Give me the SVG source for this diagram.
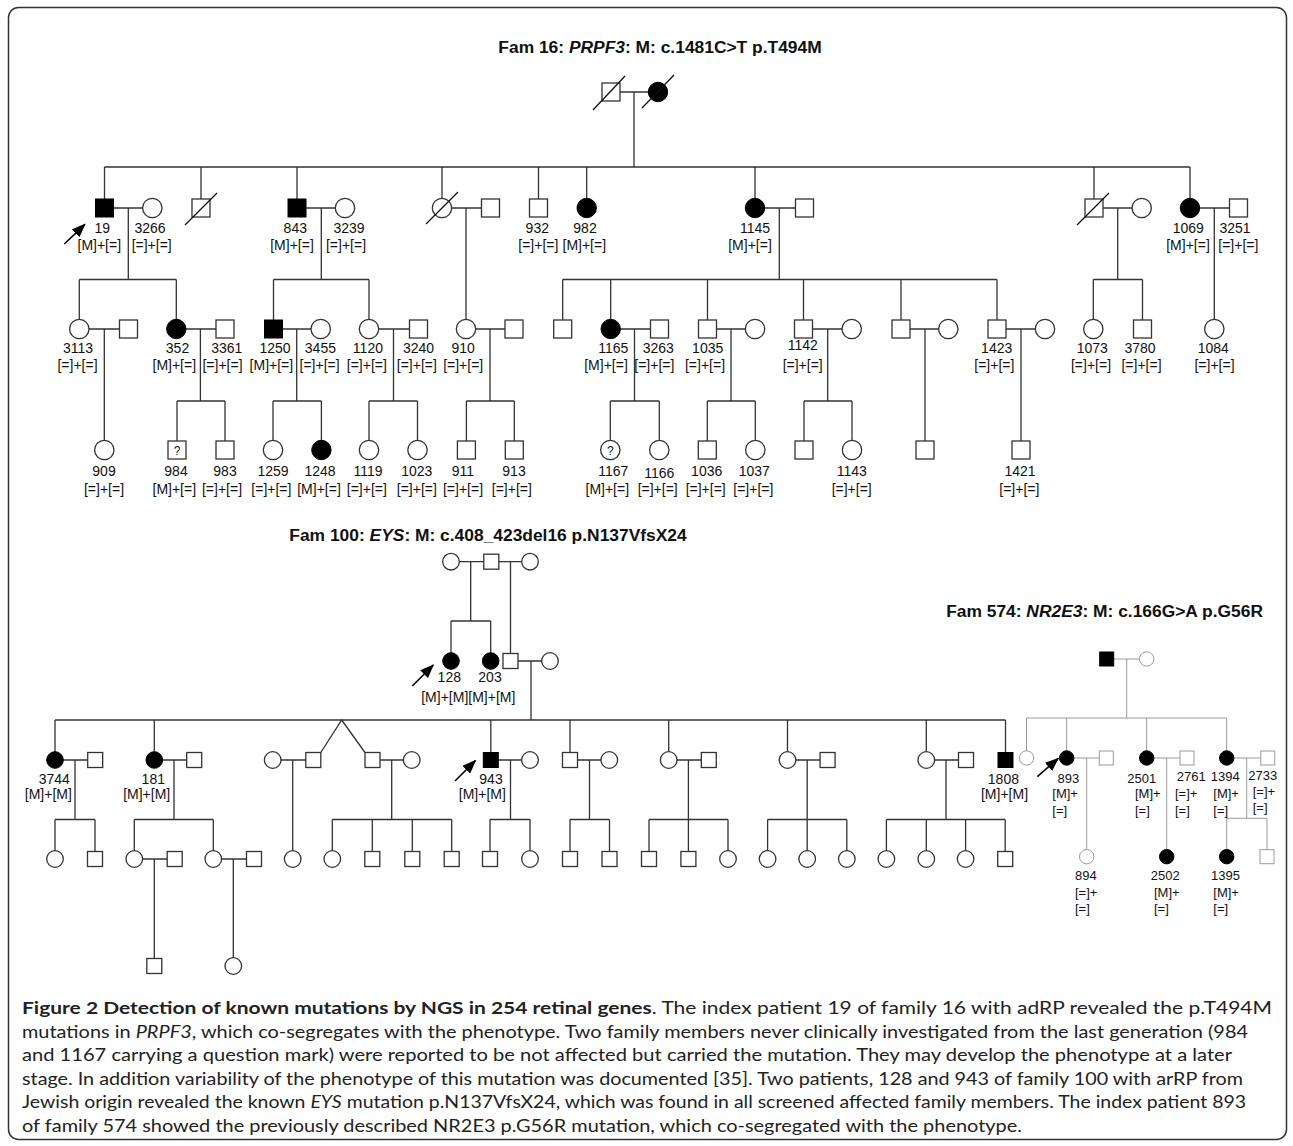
<svg xmlns="http://www.w3.org/2000/svg" xmlns:xlink="http://www.w3.org/1999/xlink" width="1293" height="1146" viewBox="0 0 1293 1146">
<style>
.ln{fill:none;stroke:#333;stroke-width:1.3}
.lg{fill:none;stroke:#9a9a9a;stroke-width:1}
.u{fill:#fff;stroke:#333;stroke-width:1.3}
.ug{fill:#fff;stroke:#9a9a9a;stroke-width:1}
.a{fill:#000;stroke:#000;stroke-width:1}
.sl{stroke:#111;stroke-width:1.3}
.n{font-family:"Liberation Sans",Arial,Helvetica,sans-serif;font-size:14px;fill:#111;text-anchor:middle}
.ne{font-family:"Liberation Sans",Arial,Helvetica,sans-serif;font-size:14px;fill:#111;text-anchor:end}
.ns{font-family:"Liberation Sans",Arial,Helvetica,sans-serif;font-size:14px;fill:#111;text-anchor:start}
.m{font-family:"Liberation Sans",Arial,Helvetica,sans-serif;font-size:13px;fill:#111}
.mc{font-family:"Liberation Sans",Arial,Helvetica,sans-serif;font-size:13px;fill:#111;text-anchor:middle}
.q{font-family:"Liberation Sans",Arial,Helvetica,sans-serif;font-size:12px;fill:#111;text-anchor:middle}
.ttl{font-family:"Liberation Sans",Arial,Helvetica,sans-serif;font-size:17.4px;font-weight:bold;fill:#111}
.cap{font-family:Lato,"Open Sans","Liberation Sans",sans-serif;font-size:17.5px;fill:#222}
.arr{stroke:#000;stroke-width:1.6;fill:none}
</style>
<defs>
<rect id="s16" x="-9" y="-9" width="18" height="18"/>
<circle id="c16" r="9.7"/>
<rect id="s100" x="-7.5" y="-7.5" width="15" height="15"/>
<circle id="c100" r="8.3"/>
<rect id="s574" x="-7" y="-7" width="14" height="14"/>
<circle id="c574" r="7.2"/>
<marker id="ah" viewBox="0 0 14 11" refX="13" refY="5.5" markerWidth="14" markerHeight="11" markerUnits="userSpaceOnUse" orient="auto">
<path d="M0 0L14 5.5L0 11z" fill="#000"/>
</marker>
</defs>

<!-- figure frame -->
<rect x="8.5" y="7.5" width="1278" height="1132" rx="10" fill="#fff" stroke="#333" stroke-width="1.5"/>

<!-- family titles -->
<g id="titles">
<text class="ttl" x="660" y="53" text-anchor="middle">Fam 16: <tspan font-style="italic">PRPF3</tspan>: M: c.1481C&gt;T p.T494M</text>
<text class="ttl" x="488" y="540.5" text-anchor="middle">Fam 100: <tspan font-style="italic">EYS</tspan>: M: c.408_423del16 p.N137VfsX24</text>
<text class="ttl" x="1263" y="617" text-anchor="end" font-size="16.6">Fam 574: <tspan font-style="italic">NR2E3</tspan>: M: c.166G&gt;A p.G56R</text>
</g>

<!-- connectors: marriage, descent and sibship lines -->
<g id="connectors">
<path class="ln" d="M611 92H658M634 92V167M104.5 167H1190M104.5 167V208M201 167V208M297 167V208M442 167V208M538.5 167V208M586.7 167V208M755 167V208M1094 167V208M1190 167V208"/>
<path class="ln" d="M104.5 208H152.3M128.3 208V279.5M79.3 279.5H176.3M79.3 279.5V329M176.3 279.5V329M297 208H345M321.3 208V279.5M273.5 279.5H369M273.5 279.5V329M369 279.5V329M442 208H490.5M466 208V329M755 208H804.5M779.3 208V279.5M562.7 279.5H997M562.7 279.5V329M610.7 279.5V329M707.5 279.5V329M803.5 279.5V329M901 279.5V329M997 279.5V329M1094 208H1141.7M1117.7 208V279.5M1093.3 279.5H1142.5M1093.3 279.5V329M1142.5 279.5V329M1190 208H1238.5M1214.3 208V329"/>
<path class="ln" d="M79.3 329H128.5M104.3 329V450M176.3 329H225M200.4 329V401M177 401H225M177 401V450M225 401V450M273.5 329H320.7M296.7 329V401M273 401H321.4M273 401V450M321.4 401V450M369 329H418.5M393.5 329V401M369 401H417.5M369 401V450M417.5 401V450M466 329H514M490 329V401M466.4 401H514.3M466.4 401V450M514.3 401V450M610.7 329H659.5M634.5 329V401M610.3 401H659.3M610.3 401V450M659.3 401V450M707.5 329H755M731 329V401M707.3 401H755.3M707.3 401V450M755.3 401V450M803.5 329H851.7M827.7 329V401M804 401H852M804 401V450M852 401V450M901 329H948.3M925 329V450M997 329H1045M1021 329V450"/>
<path class="ln" d="M451 561.7H530M470.7 561.7V621M451 621H490.7M451 621V661M490.7 621V661M510.5 561.7V661M510.5 661H550M531 661V720M55 720H1005.5M55 720V760M154.3 720V760M490.8 720V760M570 720V760M668.7 720V760M787.5 720V760M926.3 720V760M1005.5 720V760M320.8 752.5L341.7 720L365 752.5"/>
<path class="ln" d="M55 760H95.2M75 760V819.5M55 819.5H95M55 819.5V859M95 819.5V859M154.3 760H194.2M174 760V819.5M134.3 819.5H213.3M134.3 819.5V859M213.3 819.5V859M272.7 760H313.3M292.7 760V859M372.5 760H411.7M391.7 760V819.5M332.3 819.5H451.7M332.3 819.5V859M372.3 819.5V859M412.3 819.5V859M451.7 819.5V859M490.8 760H530M510.5 760V819.5M490 819.5H530M490 819.5V859M530 819.5V859M570 760H609.3M589.5 760V819.5M570 819.5H609.5M570 819.5V859M609.5 819.5V859M668.7 760H708.8M688.4 760V819.5M649 819.5H728M649 819.5V859M688.4 819.5V859M728 819.5V859M787.5 760H827.6M807.2 760V819.5M767.6 819.5H846.8M767.6 819.5V859M807.2 819.5V859M846.8 819.5V859M926.3 760H966M946 760V819.5M886.4 819.5H1005.2M886.4 819.5V859M926.3 819.5V859M965.6 819.5V859M1005.2 819.5V859M134.3 859H174.7M154.3 859V966M213.3 859H254M233.3 859V966"/>
<path class="lg" d="M1106.7 659H1146.7M1126.7 659V718M1026.5 718H1226.7M1026.5 718V758M1066.7 718V758M1146.7 718V758M1226.7 718V758M1066.7 758H1106.3M1086.7 758V856.7M1146.7 758H1187M1166.7 758V856.7M1226.7 758H1267.8M1246.7 758V818.3M1226.7 818.3H1267M1226.7 818.3V856.7M1267 818.3V856.7"/>
<path class="arr" marker-end="url(#ah)" d="M64.3 244L85 224.3"/>
<path class="arr" marker-end="url(#ah)" d="M412.3 686L433.3 665"/>
<path class="arr" marker-end="url(#ah)" d="M455 781L475.5 760.5"/>
<path class="arr" marker-end="url(#ah)" d="M1037.3 776.7L1058.3 758.3"/>
</g>

<!-- Family 16 -->
<g id="fam16">
<g id="f16-I-1"><use xlink:href="#s16" class="u" x="611" y="92"/><line class="sl" x1="593" y1="110" x2="625" y2="76"/></g>
<g id="f16-I-2"><use xlink:href="#c16" class="a" x="658" y="92"/><line class="sl" x1="642" y1="108" x2="674" y2="75"/></g>

<g id="p19"><use xlink:href="#s16" class="a" x="104.5" y="208"/><text class="n" x="102.3" y="233">19</text><text class="n" x="99.3" y="250">[M]+[=]</text></g>
<g id="p3266"><use xlink:href="#c16" class="u" x="152.3" y="208"/><text class="n" x="150" y="233">3266</text><text class="n" x="151.7" y="250">[=]+[=]</text></g>
<g id="f16-II-3"><use xlink:href="#s16" class="u" x="201" y="208"/><line class="sl" x1="185" y1="225" x2="217" y2="193"/></g>
<g id="p843"><use xlink:href="#s16" class="a" x="297" y="208"/><text class="n" x="295.3" y="233">843</text><text class="n" x="292" y="250">[M]+[=]</text></g>
<g id="p3239"><use xlink:href="#c16" class="u" x="345" y="208"/><text class="n" x="349" y="233">3239</text><text class="n" x="346" y="250">[=]+[=]</text></g>
<g id="f16-II-6"><use xlink:href="#c16" class="u" x="442" y="208"/><line class="sl" x1="426" y1="224" x2="458" y2="192"/></g>
<g id="f16-II-7"><use xlink:href="#s16" class="u" x="490.5" y="208"/></g>
<g id="p932"><use xlink:href="#s16" class="u" x="538.5" y="208"/><text class="n" x="537.3" y="233">932</text><text class="n" x="538.3" y="250">[=]+[=]</text></g>
<g id="p982"><use xlink:href="#c16" class="a" x="586.7" y="208"/><text class="n" x="585" y="233">982</text><text class="n" x="584.3" y="250">[M]+[=]</text></g>
<g id="p1145"><use xlink:href="#c16" class="a" x="755" y="208"/><text class="n" x="755" y="233">1145</text><text class="n" x="750" y="250">[M]+[=]</text></g>
<g id="f16-II-11"><use xlink:href="#s16" class="u" x="804.5" y="208"/></g>
<g id="f16-II-12"><use xlink:href="#s16" class="u" x="1094" y="208"/><line class="sl" x1="1077" y1="225" x2="1109" y2="193"/></g>
<g id="f16-II-13"><use xlink:href="#c16" class="u" x="1141.7" y="208"/></g>
<g id="p1069"><use xlink:href="#c16" class="a" x="1190" y="208"/><text class="n" x="1188.3" y="233">1069</text><text class="n" x="1188" y="250">[M]+[=]</text></g>
<g id="p3251"><use xlink:href="#s16" class="u" x="1238.5" y="208"/><text class="n" x="1235" y="233">3251</text><text class="n" x="1238.3" y="250">[=]+[=]</text></g>

<g id="p3113"><use xlink:href="#c16" class="u" x="79.3" y="329"/><text class="n" x="78" y="353">3113</text><text class="n" x="77.5" y="370">[=]+[=]</text></g>
<g id="f16-III-2"><use xlink:href="#s16" class="u" x="128.5" y="329"/></g>
<g id="p352"><use xlink:href="#c16" class="a" x="176.3" y="329"/><text class="n" x="177.5" y="353">352</text><text class="n" x="174.3" y="370">[M]+[=]</text></g>
<g id="p3361"><use xlink:href="#s16" class="u" x="225" y="329"/><text class="n" x="226.8" y="353">3361</text><text class="n" x="222.5" y="370">[=]+[=]</text></g>
<g id="p1250"><use xlink:href="#s16" class="a" x="273.5" y="329"/><text class="n" x="275" y="353">1250</text><text class="n" x="271.4" y="370">[M]+[=]</text></g>
<g id="p3455"><use xlink:href="#c16" class="u" x="320.7" y="329"/><text class="n" x="320.4" y="353">3455</text><text class="n" x="319.6" y="370">[=]+[=]</text></g>
<g id="p1120"><use xlink:href="#c16" class="u" x="369" y="329"/><text class="n" x="367.9" y="353">1120</text><text class="n" x="366.8" y="370">[=]+[=]</text></g>
<g id="p3240"><use xlink:href="#s16" class="u" x="418.5" y="329"/><text class="n" x="418.6" y="353">3240</text><text class="n" x="416.8" y="370">[=]+[=]</text></g>
<g id="p910"><use xlink:href="#c16" class="u" x="466" y="329"/><text class="n" x="463.2" y="353">910</text><text class="n" x="463.2" y="370">[=]+[=]</text></g>
<g id="f16-III-10"><use xlink:href="#s16" class="u" x="514" y="329"/></g>
<g id="f16-III-11"><use xlink:href="#s16" class="u" x="562.7" y="329"/></g>
<g id="p1165"><use xlink:href="#c16" class="a" x="610.7" y="329"/><text class="n" x="613.3" y="353">1165</text><text class="n" x="606" y="370">[M]+[=]</text></g>
<g id="p3263"><use xlink:href="#s16" class="u" x="659.5" y="329"/><text class="n" x="658.3" y="353">3263</text><text class="n" x="654.3" y="370">[=]+[=]</text></g>
<g id="p1035"><use xlink:href="#s16" class="u" x="707.5" y="329"/><text class="n" x="707.7" y="353">1035</text><text class="n" x="705" y="370">[=]+[=]</text></g>
<g id="f16-III-15"><use xlink:href="#c16" class="u" x="755" y="329"/></g>
<g id="p1142"><use xlink:href="#s16" class="u" x="803.5" y="329"/><text class="n" x="802.7" y="350">1142</text><text class="n" x="802.7" y="370">[=]+[=]</text></g>
<g id="f16-III-17"><use xlink:href="#c16" class="u" x="851.7" y="329"/></g>
<g id="f16-III-18"><use xlink:href="#s16" class="u" x="901" y="329"/></g>
<g id="f16-III-19"><use xlink:href="#c16" class="u" x="948.3" y="329"/></g>
<g id="p1423"><use xlink:href="#s16" class="u" x="997" y="329"/><text class="n" x="996.7" y="353">1423</text><text class="n" x="994.3" y="370">[=]+[=]</text></g>
<g id="f16-III-21"><use xlink:href="#c16" class="u" x="1045" y="329"/></g>
<g id="p1073"><use xlink:href="#c16" class="u" x="1093.3" y="329"/><text class="n" x="1092.3" y="353">1073</text><text class="n" x="1091" y="370">[=]+[=]</text></g>
<g id="p3780"><use xlink:href="#s16" class="u" x="1142.5" y="329"/><text class="n" x="1140" y="353">3780</text><text class="n" x="1141.5" y="370">[=]+[=]</text></g>
<g id="p1084"><use xlink:href="#c16" class="u" x="1214.3" y="329"/><text class="n" x="1213.3" y="353">1084</text><text class="n" x="1214.5" y="370">[=]+[=]</text></g>

<g id="p909"><use xlink:href="#c16" class="u" x="104.3" y="450"/><text class="n" x="104" y="476">909</text><text class="n" x="104" y="494">[=]+[=]</text></g>
<g id="p984"><use xlink:href="#s16" class="u" x="177" y="450"/><text class="q" x="177" y="454.5">?</text><text class="n" x="176" y="476">984</text><text class="n" x="174.3" y="494">[M]+[=]</text></g>
<g id="p983"><use xlink:href="#s16" class="u" x="225" y="450"/><text class="n" x="225" y="476">983</text><text class="n" x="222" y="494">[=]+[=]</text></g>
<g id="p1259"><use xlink:href="#c16" class="u" x="273" y="450"/><text class="n" x="273" y="476">1259</text><text class="n" x="271.4" y="494">[=]+[=]</text></g>
<g id="p1248"><use xlink:href="#c16" class="a" x="321.4" y="450"/><text class="n" x="320" y="476">1248</text><text class="n" x="319" y="494">[M]+[=]</text></g>
<g id="p1119"><use xlink:href="#c16" class="u" x="369" y="450"/><text class="n" x="368" y="476">1119</text><text class="n" x="366.8" y="494">[=]+[=]</text></g>
<g id="p1023"><use xlink:href="#c16" class="u" x="417.5" y="450"/><text class="n" x="416.8" y="476">1023</text><text class="n" x="416.8" y="494">[=]+[=]</text></g>
<g id="p911"><use xlink:href="#s16" class="u" x="466.4" y="450"/><text class="n" x="463" y="476">911</text><text class="n" x="463" y="494">[=]+[=]</text></g>
<g id="p913"><use xlink:href="#s16" class="u" x="514.3" y="450"/><text class="n" x="514" y="476">913</text><text class="n" x="511.8" y="494">[=]+[=]</text></g>
<g id="p1167"><use xlink:href="#c16" class="u" x="610.3" y="450"/><text class="q" x="610.3" y="454.5">?</text><text class="n" x="613.3" y="476">1167</text><text class="n" x="607.3" y="494">[M]+[=]</text></g>
<g id="p1166"><use xlink:href="#c16" class="u" x="659.3" y="450"/><text class="n" x="659.3" y="478">1166</text><text class="n" x="657.7" y="494">[=]+[=]</text></g>
<g id="p1036"><use xlink:href="#s16" class="u" x="707.3" y="450"/><text class="n" x="706.7" y="476">1036</text><text class="n" x="705.7" y="494">[=]+[=]</text></g>
<g id="p1037"><use xlink:href="#c16" class="u" x="755.3" y="450"/><text class="n" x="754.3" y="476">1037</text><text class="n" x="753.3" y="494">[=]+[=]</text></g>
<g id="f16-IV-14"><use xlink:href="#s16" class="u" x="804" y="450"/></g>
<g id="p1143"><use xlink:href="#c16" class="u" x="852" y="450"/><text class="n" x="851.7" y="476">1143</text><text class="n" x="851.7" y="494">[=]+[=]</text></g>
<g id="f16-IV-16"><use xlink:href="#s16" class="u" x="925" y="450"/></g>
<g id="p1421"><use xlink:href="#s16" class="u" x="1021" y="450"/><text class="n" x="1020" y="476">1421</text><text class="n" x="1019.3" y="494">[=]+[=]</text></g>
</g>

<!-- Family 100 -->
<g id="fam100">
<g id="f100-I-1"><use xlink:href="#c100" class="u" x="451" y="561.7"/></g>
<g id="f100-I-2"><use xlink:href="#s100" class="u" x="491.3" y="561.7"/></g>
<g id="f100-I-3"><use xlink:href="#c100" class="u" x="530" y="561.7"/></g>
<g id="p128"><use xlink:href="#c100" class="a" x="451" y="661"/><text class="n" x="449.3" y="682.3">128</text><text class="ne" x="468.3" y="701.5">[M]+[M]</text></g>
<g id="p203"><use xlink:href="#c100" class="a" x="490.7" y="661"/><text class="n" x="490" y="682.3">203</text><text class="ns" x="468.3" y="701.5">[M]+[M]</text></g>
<g id="f100-II-3"><use xlink:href="#s100" class="u" x="510.5" y="661"/></g>
<g id="f100-II-4"><use xlink:href="#c100" class="u" x="550" y="661"/></g>

<g id="p3744"><use xlink:href="#c100" class="a" x="55" y="760"/><text class="n" x="54.3" y="784">3744</text><text class="n" x="48.3" y="799">[M]+[M]</text></g>
<g id="f100-III-2"><use xlink:href="#s100" class="u" x="95.2" y="760"/></g>
<g id="p181"><use xlink:href="#c100" class="a" x="154.3" y="760"/><text class="n" x="153.3" y="784">181</text><text class="n" x="146.7" y="799">[M]+[M]</text></g>
<g id="f100-III-4"><use xlink:href="#s100" class="u" x="194.2" y="760"/></g>
<g id="f100-III-5"><use xlink:href="#c100" class="u" x="272.7" y="760"/></g>
<g id="f100-III-6"><use xlink:href="#s100" class="u" x="313.3" y="760"/></g>
<g id="f100-III-7"><use xlink:href="#s100" class="u" x="372.5" y="760"/></g>
<g id="f100-III-8"><use xlink:href="#c100" class="u" x="411.7" y="760"/></g>
<g id="p943"><use xlink:href="#s100" class="a" x="490.8" y="760"/><text class="n" x="491" y="784">943</text><text class="n" x="482.3" y="799">[M]+[M]</text></g>
<g id="f100-III-10"><use xlink:href="#c100" class="u" x="530" y="760"/></g>
<g id="f100-III-11"><use xlink:href="#s100" class="u" x="570" y="760"/></g>
<g id="f100-III-12"><use xlink:href="#c100" class="u" x="609.3" y="760"/></g>
<g id="f100-III-13"><use xlink:href="#c100" class="u" x="668.7" y="760"/></g>
<g id="f100-III-14"><use xlink:href="#s100" class="u" x="708.8" y="760"/></g>
<g id="f100-III-15"><use xlink:href="#c100" class="u" x="787.5" y="760"/></g>
<g id="f100-III-16"><use xlink:href="#s100" class="u" x="827.6" y="760"/></g>
<g id="f100-III-17"><use xlink:href="#c100" class="u" x="926.3" y="760"/></g>
<g id="f100-III-18"><use xlink:href="#s100" class="u" x="966" y="760"/></g>
<g id="p1808"><use xlink:href="#s100" class="a" x="1005.5" y="760"/><text class="n" x="1003.4" y="784">1808</text><text class="n" x="1004.5" y="799">[M]+[M]</text></g>

<g id="f100-IV-1"><use xlink:href="#c100" class="u" x="55" y="859"/></g>
<g id="f100-IV-2"><use xlink:href="#s100" class="u" x="95" y="859"/></g>
<g id="f100-IV-3"><use xlink:href="#c100" class="u" x="134.3" y="859"/></g>
<g id="f100-IV-4"><use xlink:href="#s100" class="u" x="174.7" y="859"/></g>
<g id="f100-IV-5"><use xlink:href="#c100" class="u" x="213.3" y="859"/></g>
<g id="f100-IV-6"><use xlink:href="#s100" class="u" x="254" y="859"/></g>
<g id="f100-IV-7"><use xlink:href="#c100" class="u" x="292.7" y="859"/></g>
<g id="f100-IV-8"><use xlink:href="#c100" class="u" x="332.3" y="859"/></g>
<g id="f100-IV-9"><use xlink:href="#s100" class="u" x="372.3" y="859"/></g>
<g id="f100-IV-10"><use xlink:href="#s100" class="u" x="412.3" y="859"/></g>
<g id="f100-IV-11"><use xlink:href="#s100" class="u" x="451.7" y="859"/></g>
<g id="f100-IV-12"><use xlink:href="#s100" class="u" x="490" y="859"/></g>
<g id="f100-IV-13"><use xlink:href="#c100" class="u" x="530" y="859"/></g>
<g id="f100-IV-14"><use xlink:href="#s100" class="u" x="570" y="859"/></g>
<g id="f100-IV-15"><use xlink:href="#s100" class="u" x="609.5" y="859"/></g>
<g id="f100-IV-16"><use xlink:href="#s100" class="u" x="649" y="859"/></g>
<g id="f100-IV-17"><use xlink:href="#s100" class="u" x="688.4" y="859"/></g>
<g id="f100-IV-18"><use xlink:href="#c100" class="u" x="728" y="859"/></g>
<g id="f100-IV-19"><use xlink:href="#c100" class="u" x="767.6" y="859"/></g>
<g id="f100-IV-20"><use xlink:href="#c100" class="u" x="807.2" y="859"/></g>
<g id="f100-IV-21"><use xlink:href="#c100" class="u" x="846.8" y="859"/></g>
<g id="f100-IV-22"><use xlink:href="#c100" class="u" x="886.4" y="859"/></g>
<g id="f100-IV-23"><use xlink:href="#c100" class="u" x="926.3" y="859"/></g>
<g id="f100-IV-24"><use xlink:href="#c100" class="u" x="965.6" y="859"/></g>
<g id="f100-IV-25"><use xlink:href="#s100" class="u" x="1005.2" y="859"/></g>

<g id="f100-V-1"><use xlink:href="#s100" class="u" x="154.3" y="966"/></g>
<g id="f100-V-2"><use xlink:href="#c100" class="u" x="233.3" y="966"/></g>
</g>

<!-- Family 574 -->
<g id="fam574">
<g id="f574-I-1"><use xlink:href="#s574" class="a" x="1106.7" y="659"/></g>
<g id="f574-I-2"><use xlink:href="#c574" class="ug" x="1146.7" y="659"/></g>
<g id="f574-II-1"><use xlink:href="#c574" class="ug" x="1026.5" y="758"/></g>
<g id="p893"><use xlink:href="#c574" class="a" x="1066.7" y="758"/><text class="mc" x="1068.3" y="782.7">893</text><text class="m" x="1052.3" y="798.3">[M]+</text><text class="m" x="1052.3" y="815">[=]</text></g>
<g id="f574-II-3"><use xlink:href="#s574" class="ug" x="1106.3" y="758"/></g>
<g id="p2501"><use xlink:href="#c574" class="a" x="1146.7" y="758"/><text class="mc" x="1141.7" y="782.7">2501</text><text class="m" x="1135" y="798.3">[M]+</text><text class="m" x="1135" y="815">[=]</text></g>
<g id="p2761"><use xlink:href="#s574" class="ug" x="1187" y="758"/><text class="m" x="1176.7" y="780.7">2761</text><text class="m" x="1175" y="798">[=]+</text><text class="m" x="1175" y="815">[=]</text></g>
<g id="p1394"><use xlink:href="#c574" class="a" x="1226.7" y="758"/><text class="m" x="1210.7" y="781">1394</text><text class="m" x="1213.3" y="798">[M]+</text><text class="m" x="1213.3" y="815">[=]</text></g>
<g id="p2733"><use xlink:href="#s574" class="ug" x="1267.8" y="758"/><text class="m" x="1248.3" y="780">2733</text><text class="m" x="1252.7" y="796">[=]+</text><text class="m" x="1252.7" y="812">[=]</text></g>
<g id="p894"><use xlink:href="#c574" class="ug" x="1086.7" y="856.7"/><text class="m" x="1075" y="880">894</text><text class="m" x="1075" y="896.7">[=]+</text><text class="m" x="1075" y="913.3">[=]</text></g>
<g id="p2502"><use xlink:href="#c574" class="a" x="1166.7" y="856.7"/><text class="m" x="1150.7" y="880">2502</text><text class="m" x="1154" y="896.7">[M]+</text><text class="m" x="1154" y="913.3">[=]</text></g>
<g id="p1395"><use xlink:href="#c574" class="a" x="1226.7" y="856.7"/><text class="m" x="1211" y="880">1395</text><text class="m" x="1213.3" y="896.7">[M]+</text><text class="m" x="1213.3" y="913.3">[=]</text></g>
<g id="f574-III-4"><use xlink:href="#s574" class="ug" x="1267" y="856.7"/></g>
</g>

<!-- figure caption -->
<g id="caption" class="cap">
<text x="22" y="1014" textLength="1250" lengthAdjust="spacingAndGlyphs"><tspan font-weight="bold">Figure 2 Detection of known mutations by NGS in 254 retinal genes</tspan>. The index patient 19 of family 16 with adRP revealed the p.T494M</text>
<text x="22" y="1037.5" textLength="1226" lengthAdjust="spacingAndGlyphs">mutations in <tspan font-style="italic">PRPF3</tspan>, which co-segregates with the phenotype. Two family members never clinically investigated from the last generation (984</text>
<text x="22" y="1061" textLength="1210" lengthAdjust="spacingAndGlyphs">and 1167 carrying a question mark) were reported to be not affected but carried the mutation. They may develop the phenotype at a later</text>
<text x="22" y="1084.5" textLength="1221" lengthAdjust="spacingAndGlyphs">stage. In addition variability of the phenotype of this mutation was documented [35]. Two patients, 128 and 943 of family 100 with arRP from</text>
<text x="22" y="1108" textLength="1224" lengthAdjust="spacingAndGlyphs">Jewish origin revealed the known <tspan font-style="italic">EYS</tspan> mutation p.N137VfsX24, which was found in all screened affected family members. The index patient 893</text>
<text x="22" y="1131.5" textLength="1000" lengthAdjust="spacingAndGlyphs">of family 574 showed the previously described NR2E3 p.G56R mutation, which co-segregated with the phenotype.</text>
</g>
</svg>
